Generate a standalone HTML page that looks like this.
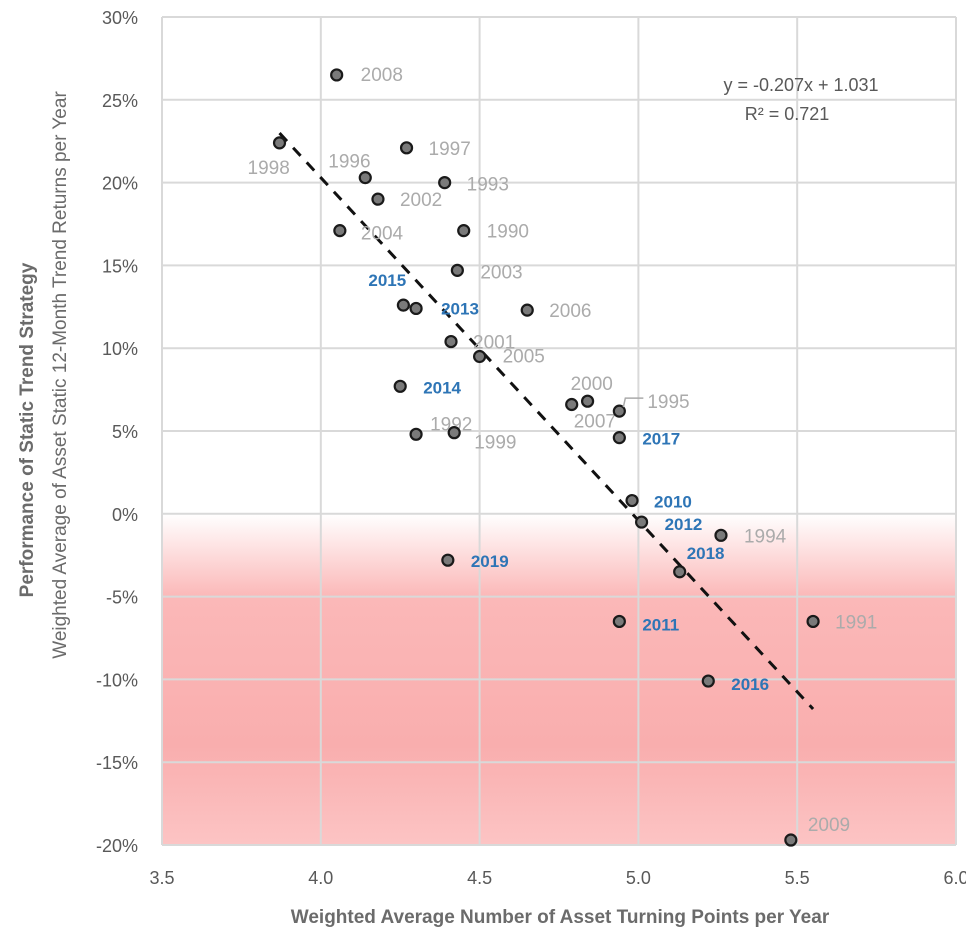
<!DOCTYPE html>
<html><head><meta charset="utf-8"><style>
html,body{margin:0;padding:0;background:#fff;}
svg{display:block;font-family:"Liberation Sans",sans-serif;}
</style></head><body>
<svg id="chart" width="966" height="933">
<defs>
<linearGradient id="neg" x1="0" y1="0" x2="0" y2="1">
<stop offset="0" stop-color="#ffffff"/>
<stop offset="0.25" stop-color="#fbb8b8"/>
<stop offset="0.7" stop-color="#f9aeae"/>
<stop offset="1" stop-color="#fcc4c4"/>
</linearGradient>
</defs>
<g id="grid"></g>
<g id="marks"></g>
<text x="801" y="91" font-size="18" fill="#595959" text-anchor="middle">y = -0.207x + 1.031</text>
<text x="787" y="120" font-size="18" fill="#595959" text-anchor="middle">R² = 0.721</text>
<text x="560" y="923" font-size="19" font-weight="bold" fill="#6b6b6b" text-anchor="middle">Weighted Average Number of Asset Turning Points per Year</text>
<text transform="translate(33,430) rotate(-90)" font-size="19" font-weight="bold" fill="#6b6b6b" text-anchor="middle">Performance of Static Trend Strategy</text>
<text transform="translate(66,375) rotate(-90)" font-size="19" fill="#6b6b6b" text-anchor="middle">Weighted Average of Asset Static 12-Month Trend Returns per Year</text>
</svg>
<script>
const years=[2008,1998,1996,2002,2004,1997,1993,1990,2003,2015,2013,2006,2001,2005,2014,2000,2007,1995,1992,1999,2017,2010,2012,1994,2019,2018,2011,1991,2016,2009];
const xVals=[4.05,3.87,4.14,4.18,4.06,4.27,4.39,4.45,4.43,4.26,4.30,4.65,4.41,4.50,4.25,4.84,4.79,4.94,4.30,4.42,4.94,4.98,5.01,5.26,4.40,5.13,4.94,5.55,5.22,5.48];
const yVals=[26.5,22.4,20.3,19.0,17.1,22.1,20.0,17.1,14.7,12.6,12.4,12.3,10.4,9.5,7.7,6.8,6.6,6.2,4.8,4.9,4.6,0.8,-0.5,-1.3,-2.8,-3.5,-6.5,-6.5,-10.1,-19.7];
const highlighted=[2015,2013,2014,2017,2010,2012,2019,2018,2011,2016];
const xTicks=[3.5,4.0,4.5,5.0,5.5,6.0];
const yTicks=[30,25,20,15,10,5,0,-5,-10,-15,-20];
const slope=-0.207, intercept=1.031, trendX=[3.87,5.55];
const labelDx=[24,-32,-37,22,21,22,22,23,23,-35,25,22,22,23,23,-17,2,28,14,20,23,22,23,23,23,7,23,22,23,17];
const labelDy=[0,25,-16,1,3,1,2,1,2,-25,0,1,1,0,1,-17,17,-9,-10,10,1,1,2,1,1,-19,3,1,3,-15];

const X0=162,X1=956,Y0=17,Y1=845;
const sx=v=>X0+(v-3.5)/2.5*(X1-X0);
const sy=v=>Y0+(30-v)/50*(Y1-Y0);
const NS='http://www.w3.org/2000/svg';
function mk(tag,attrs,parent,txt){const e=document.createElementNS(NS,tag);for(const k in attrs)e.setAttribute(k,attrs[k]);if(txt!==undefined)e.textContent=txt;parent.appendChild(e);return e;}
const grid=document.getElementById('grid'),marks=document.getElementById('marks');

const bg=mk('rect',{x:X0,y:sy(0),width:X1-X0,height:Y1-sy(0),fill:'url(#neg)'},grid);


xTicks.forEach(t=>{
  const l=mk('line',{x1:sx(t),x2:sx(t),y1:Y0,y2:Y1,stroke:'#d9d9d9','stroke-width':2},grid);
  
  
  const tx=mk('text',{x:sx(t),y:Y1+39,'font-size':18,fill:'#595959','text-anchor':'middle'},grid,t.toFixed(1));
  
  
});
yTicks.forEach(t=>{
  const l=mk('line',{x1:X0,x2:X1,y1:sy(t),y2:sy(t),stroke:'#d9d9d9','stroke-width':2},grid);
  
  
  const tx=mk('text',{x:138,y:sy(t)+7,'font-size':18,fill:'#595959','text-anchor':'end'},grid,t+'%');
  
  
});
const tl=mk('line',{x1:sx(trendX[0]),y1:sy((slope*trendX[0]+intercept)*100),x2:sx(trendX[1]),y2:sy((slope*trendX[1]+intercept)*100),stroke:'#111','stroke-width':3,'stroke-dasharray':'11,9'},marks);


years.forEach((yr,i)=>{
  const cx=sx(xVals[i]),cy=sy(yVals[i]);
  const c=mk('circle',{cx:cx,cy:cy,r:5.5,fill:'#7a7a7a',stroke:'#1a1a1a','stroke-width':2.2},marks);
  
  
  const hl=highlighted.includes(yr);
  const t=mk('text',{x:cx+labelDx[i],y:cy+labelDy[i]+6,'font-size':hl?17:19,'font-weight':hl?'bold':'normal',fill:hl?'#2e75b6':'#ababab'},marks,String(yr));
  
  
  if(yr===1995){
    const ld=mk('polyline',{points:(cx+4)+','+(cy-4)+' '+(cx+6)+','+(cy-13)+' '+(cx+24)+','+(cy-13),fill:'none',stroke:'#aaa','stroke-width':1.5},marks);
    
    
  }
});
</script>
</body></html>
